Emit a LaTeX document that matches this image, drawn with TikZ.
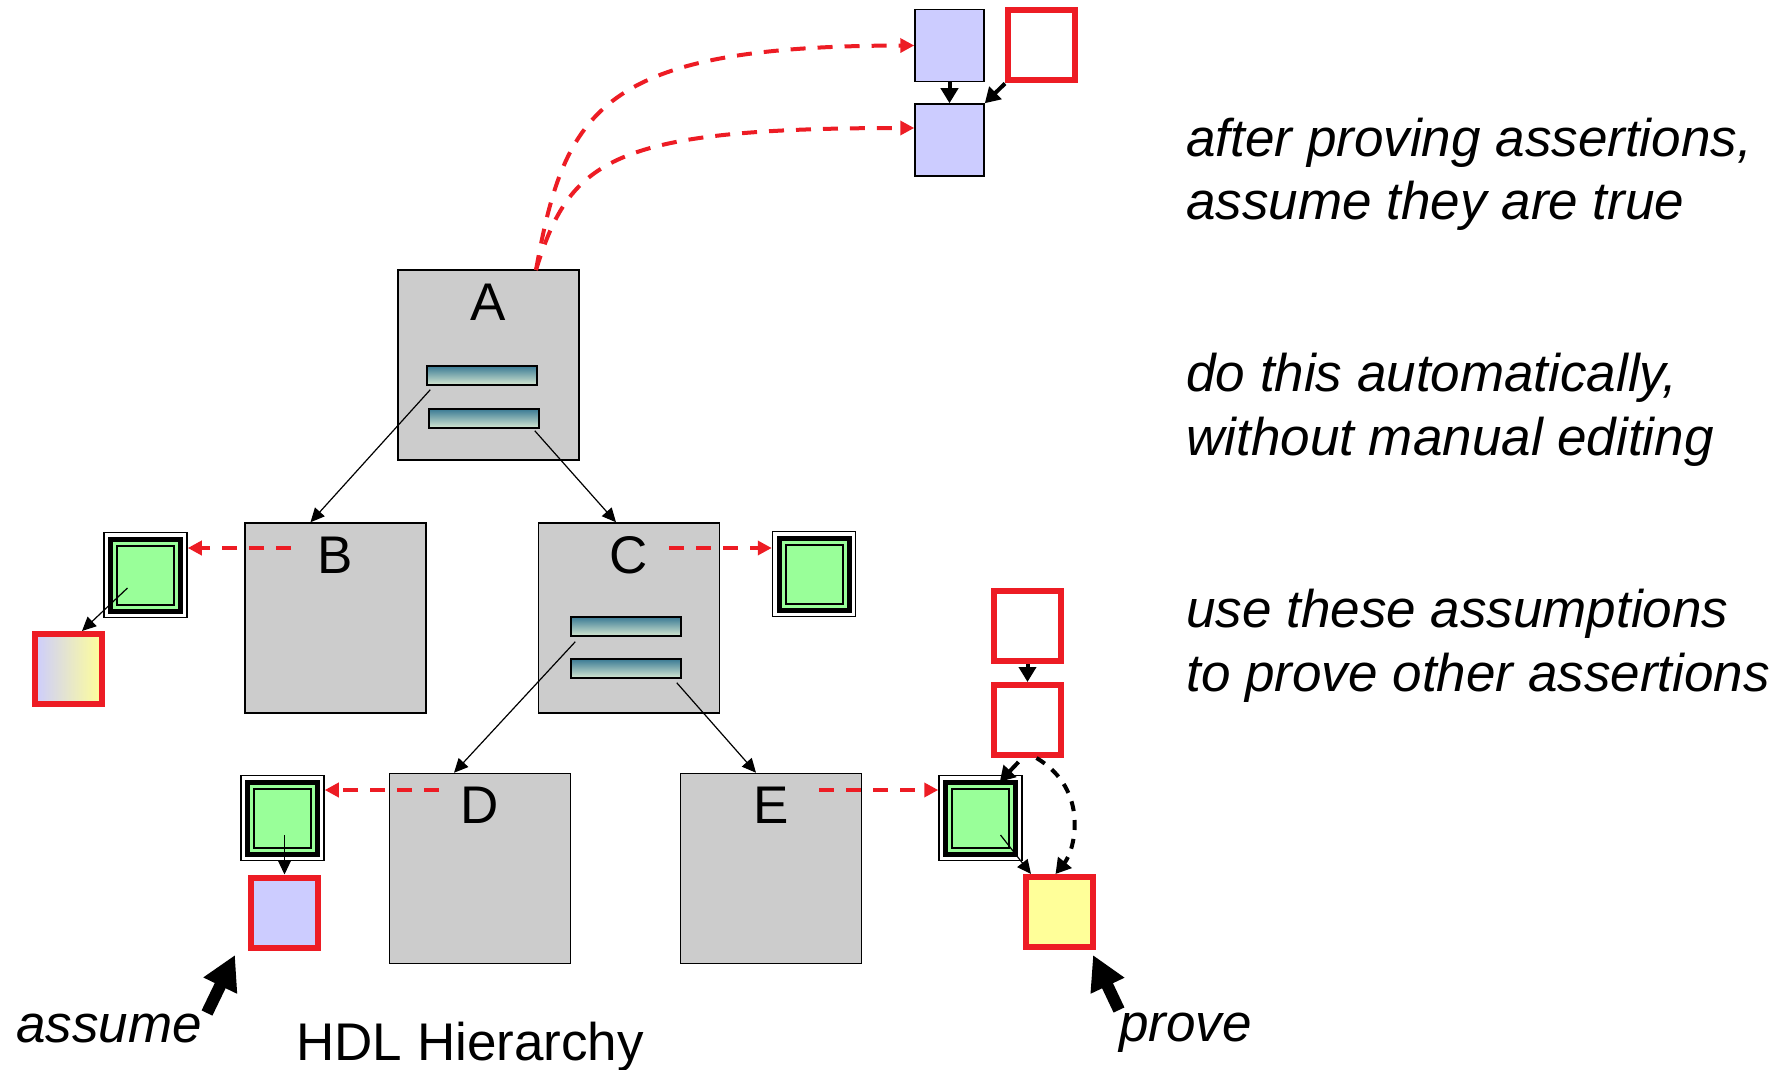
\documentclass[tikz,border=0pt]{standalone}
\usepackage{fontspec}
\setmainfont{Liberation Sans}
\usetikzlibrary{arrows.meta,calc}
\definecolor{redc}{RGB}{237,28,36}
\definecolor{grayfill}{RGB}{204,204,204}
\definecolor{bluefill}{RGB}{204,204,255}
\definecolor{greenfill}{RGB}{153,255,153}
\definecolor{yellowfill}{RGB}{255,255,153}
\definecolor{bartop}{RGB}{58,122,148}
\definecolor{barbot}{RGB}{214,232,210}
\begin{document}
\begin{tikzpicture}[x=0.5pt,y=-0.5pt,
  bigfont/.style={font=\fontsize{26.5}{32}\selectfont},
  hbox/.style={rectangle,fill=grayfill,draw=black,line width=0.75pt,minimum width=90.5pt,minimum height=95pt,inner sep=0pt},
  bar/.style={rectangle,draw=black,line width=0.75pt,top color=bartop,bottom color=barbot,minimum width=55pt,minimum height=9.5pt,inner sep=0pt},
  bluebox/.style={rectangle,fill=bluefill,draw=black,line width=0.75pt,minimum width=34.5pt,minimum height=36pt,inner sep=0pt},
  redbox/.style={rectangle,draw=redc,line width=3pt,minimum width=33.5pt,minimum height=35pt,inner sep=0pt},
  gbox/.style={rectangle,fill=white,draw=black,line width=0.75pt,minimum width=41.5pt,minimum height=42.5pt,inner sep=0pt,
    path picture={
      \fill[black] ($(path picture bounding box.south west)+(2pt,2pt)$) rectangle ($(path picture bounding box.north east)+(-2pt,-2pt)$);
      \fill[greenfill] ($(path picture bounding box.south west)+(4.5pt,4.5pt)$) rectangle ($(path picture bounding box.north east)+(-4.5pt,-4.5pt)$);
      \draw[black,line width=1pt] ($(path picture bounding box.south west)+(6.5pt,6.5pt)$) rectangle ($(path picture bounding box.north east)+(-6.5pt,-6.5pt)$);
    }},
  lbl/.style={bigfont,inner sep=0pt,anchor=base},
  thinarr/.style={draw=black,line width=0.6pt,-{Triangle[length=7pt,width=6.5pt]}},
  thickarr/.style={draw=black,line width=2pt,-{Triangle[length=7.5pt,width=8.5pt]}},
  reddash/.style={draw=redc,line width=2pt,dash pattern=on 7.5pt off 6pt,-{Triangle[length=7pt,width=7pt]}},
  blackdash/.style={draw=black,line width=2pt,dash pattern=on 5pt off 4.5pt,-{Triangle[length=7.5pt,width=8.5pt]}},
  bigarr/.style={draw=black,line width=6pt,-{Triangle[length=17pt,width=17.5pt]}}
]
\useasboundingbox (0,0) rectangle (1788,1070);

% hierarchy boxes
\node[hbox] (A) at (488.5,365) {};
\node[hbox] (B) at (335.5,618) {};
\node[hbox] (C) at (629,618) {};
\node[hbox] (D) at (480,868.5) {};
\node[hbox] (E) at (771,868.5) {};
\node[lbl] (Al) at ($(A.north)+(0,51)$) {A};
\node[lbl] (Bl) at ($(B.north)+(0,51)$) {B};
\node[lbl] (Cl) at ($(C.north)+(0,51)$) {C};
\node[lbl] (Dl) at ($(D.north)+(0,51)$) {D};
\node[lbl] (El) at ($(E.north)+(0,51)$) {E};

% bars
\node[bar] (A1) at (482,375.5) {};
\node[bar] (A2) at (484,418.5) {};
\node[bar] (C1) at (626,626.5) {};
\node[bar] (C2) at (626,668.5) {};

\draw[thinarr] ($(A1.south west)+(4,4)$) -- ($(B.north)+(-25,0)$);
\draw[thinarr] ($(A2.south east)+(-5,2)$) -- ($(C.north)+(-13,0)$);
\draw[thinarr] ($(C1.south west)+(5,5)$) -- ($(D.north)+(-26,0)$);
\draw[thinarr] ($(C2.south east)+(-5,4)$) -- ($(E.north)+(-15,0)$);

% top group
\node[bluebox] (P1) at (949.5,45.5) {};
\node[bluebox] (P2) at (949.5,140) {};
\node[redbox] (TR) at (1041.5,45.5) {};
\draw[thickarr] (P1.south) -- (P2.north);
\draw[thickarr] (TR.south west) -- (P2.north east);

\coordinate (Atop) at (536,270);
\draw[reddash] (Atop) .. controls (565,110) and (600,46) .. (P1.west);
\draw[reddash] (Atop) .. controls (570,160) and (610,128) .. ($(P2.west)+(0,-12)$);

% green boxes
\node[gbox] (G1) at (145.5,575) {};
\node[gbox] (G2) at (814,574) {};
\node[gbox] (G3) at (282.5,818) {};
\node[gbox] (G4) at (980.5,818) {};

% small red boxes
\node[redbox,left color=bluefill,right color=yellowfill] (R1) at (68,669) {};
\node[redbox,fill=bluefill] (R2) at (284.5,912.5) {};
\node[redbox] (R3) at (1027.5,626) {};
\node[redbox] (R4) at (1027.5,720) {};
\node[redbox,fill=yellowfill] (Y) at (1059.5,912) {};

% red dashed horizontal
\coordinate (bs) at (291,548);
\coordinate (cs) at (669,548);
\coordinate (ds) at (439,790);
\coordinate (es) at (819,790);
\draw[reddash] (bs) -- (G1.east |- bs);
\draw[reddash] (cs) -- (G2.west |- cs);
\draw[reddash] (ds) -- (G3.east |- ds);
\draw[reddash] (es) -- (G4.west |- es);

% thin arrows from green boxes
\draw[thinarr] ($(G1.center)+(-18,13)$) -- ($(R1.north)+(14,0)$);
\draw[thinarr] ($(G3.center)+(2,17)$) -- (R2.north);
\draw[thinarr] ($(G4.center)+(20,17)$) -- ($(Y.north west)+(8,0)$);

% right group arrows
\draw[thickarr] (R3.south) -- (R4.north);
\draw[thickarr] ($(R4.south)+(-9,4)$) -- ($(G4.north east)+(-23,7)$);
\draw[blackdash] ($(R4.south)+(9,0)$) .. controls (1090,790) and (1075,850) .. ($(Y.north)+(-4,0)$);

% big arrows
\coordinate (asT) at (207,1013);
\coordinate (asH) at (235,955);
\coordinate (prT) at (1119,1010);
\coordinate (prH) at (1093,955);
\draw[bigarr] (asT) -- (asH);
\draw[bigarr] (prT) -- (prH);

% texts
\node[bigfont,inner sep=0pt,anchor=base west] (assume) at (16,1042) {\itshape assume};
\node[bigfont,inner sep=0pt,anchor=base west] (prove) at (1119,1041) {\itshape prove};
\node[bigfont,inner sep=0pt,anchor=base west] (hdl) at (296,1060) {HDL Hierarchy};
\node[bigfont,inner sep=0pt,anchor=base west,align=left] (t1) at (1186,220) {\itshape after proving assertions,\\\itshape assume they are true};
\node[bigfont,inner sep=0pt,anchor=base west,align=left] (t2) at (1186,455) {\itshape do this automatically,\\\itshape without manual editing};
\node[bigfont,inner sep=0pt,anchor=base west,align=left] (t3) at (1186,691) {\itshape use these assumptions\\\itshape to prove other assertions};
\end{tikzpicture}
\end{document}
